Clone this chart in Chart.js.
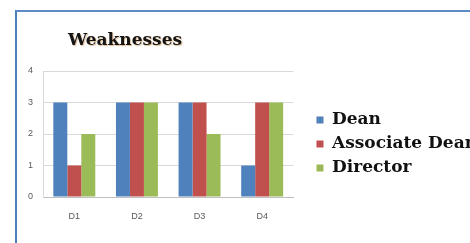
<!DOCTYPE html>
<html>
<head>
<meta charset="utf-8">
<script src="https://cdn.jsdelivr.net/npm/chart.js@4"></script>
<style>
  html, body { margin: 0; padding: 0; background: #fff; overflow: hidden; width: 470px; height: 243px; }
  #wrap { position: absolute; left: 0; top: 0; width: 487px; height: 243px; }
  #frame { position: absolute; left: 15px; top: 10px; width: 470px; height: 240px;
           border-left: 2px solid #4a7ebb; border-top: 2px solid #5b8cc8; }
  #title { position: absolute; left: 68px; top: 29px; font: bold 17px "DejaVu Serif", serif;
           color: #141414; line-height: 20px; text-shadow: 1px 1px 1px rgba(190,120,40,0.5); }
</style>
</head>
<body>
<div id="frame"></div>
<div id="wrap"><canvas id="myChart" width="487" height="243"></canvas></div>
<div id="title">Weaknesses</div>
<script>
var labels = ["D1", "D2", "D3", "D4"];
var dean = [3, 3, 3, 1];
var associateDean = [1, 3, 3, 3];
var director = [2, 3, 2, 3];
var yTicks = [0, 1, 2, 3, 4];

var tickFont = { family: "'Liberation Sans', sans-serif", size: 9 };

var chartConfig = {
  type: "bar",
  data: {
    labels: labels,
    datasets: [
      { label: "Dean", data: dean, backgroundColor: "#4f81bd", borderWidth: 0 },
      { label: "Associate Dean", data: associateDean, backgroundColor: "#c0504d", borderWidth: 0 },
      { label: "Director", data: director, backgroundColor: "#9bbb59", borderWidth: 0 },
    ],
  },
  options: {
    responsive: false,
    animation: false,
    devicePixelRatio: 1,
    layout: { padding: { left: 20, top: 71, right: 0, bottom: 26 } },
    datasets: { bar: { categoryPercentage: 0.67, barPercentage: 1.0 } },
    plugins: {
      title: { display: false },
      tooltip: { enabled: false },
      legend: {
        position: "right",
        align: "center",
        maxWidth: 300,
        labels: {
          boxWidth: 7,
          boxHeight: 7,
          padding: 7,
          color: "#111",
          font: { family: "'DejaVu Serif', serif", size: 17, weight: "bold" },
        },
      },
    },
    scales: {
      x: {
        grid: { display: false, drawTicks: false },
        border: { color: "#bfbfbf", width: 1 },
        ticks: { color: "#595959", font: tickFont, padding: 14 },
        afterFit: function (s) {
          s.height = 20;
          s._computeLabelArea = function () { return undefined; };
        },
      },
      y: {
        min: 0,
        max: 4,
        grid: { color: "#d9d9d9", drawTicks: false },
        border: { color: "#d9d9d9" },
        ticks: {
          stepSize: 1,
          color: "#595959",
          font: tickFont,
          padding: 10,
          callback: function (v) { return yTicks.indexOf(v) >= 0 ? v : ""; },
        },
        afterFit: function (s) { s.width = 23; },
      },
      gap: {
        type: "linear",
        position: "right",
        display: true,
        grid: { display: false },
        border: { display: false },
        ticks: { display: false },
        afterFit: function (s) { s.width = 16; },
      },
    },
  },
};

var myChart = new Chart(document.getElementById("myChart"), chartConfig);
</script>
</body>
</html>
